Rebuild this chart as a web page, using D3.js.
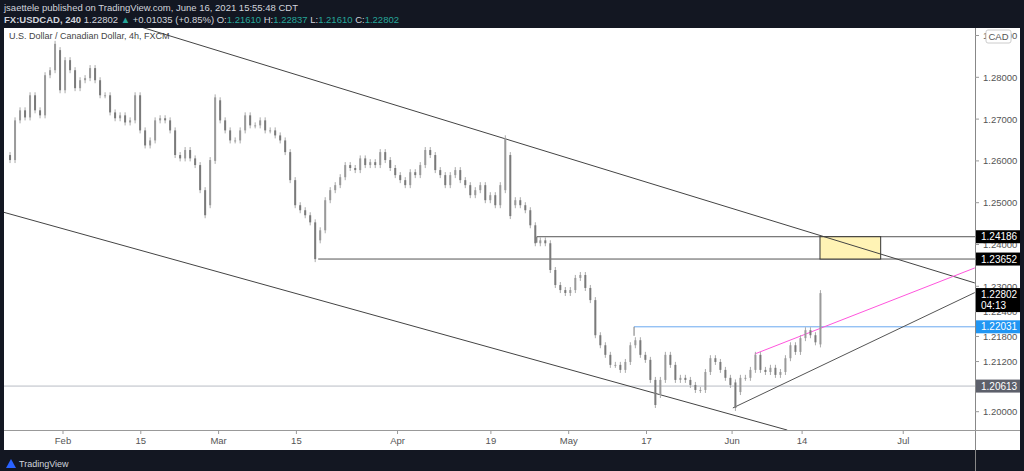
<!DOCTYPE html>
<html><head><meta charset="utf-8">
<script src="https://cdn.jsdelivr.net/npm/d3@7"></script>
<style>body{margin:0;background:#131722;}svg{display:block;font-family:"Liberation Sans",Arial,sans-serif;}</style>
</head><body><svg id="c" width="1024" height="471"></svg>
<script>
// trading-day index (0 = Feb 1) of first sample, sample spacing in trading days
const firstDay = -7.45, daySpan = 0.643;
const closes = [
1.2614,1.2602,1.2697,1.2721,1.2704,1.2757,1.2721,1.2709,1.2805,1.2817,
1.2865,1.2769,1.2841,1.2817,1.2774,1.2793,1.2798,1.2822,1.2793,1.2757,
1.2757,1.2716,1.2702,1.2709,1.2692,1.2697,1.2757,1.2673,1.2637,1.2649,
1.2697,1.2702,1.2697,1.2673,1.2614,1.2606,1.2626,1.2606,1.2590,1.2530,
1.2494,1.2602,1.2745,1.2697,1.2673,1.2649,1.2649,1.2673,1.2709,1.2685,
1.2685,1.2697,1.2673,1.2673,1.2661,1.2649,1.2621,1.2554,1.2494,1.2482,
1.2470,1.2453,1.2410,1.2434,1.2506,1.2530,1.2542,1.2561,1.2590,1.2583,
1.2578,1.2606,1.2590,1.2597,1.2590,1.2621,1.2602,1.2583,1.2566,1.2554,
1.2542,1.2573,1.2566,1.2590,1.2626,1.2614,1.2578,1.2566,1.2542,1.2566,
1.2578,1.2554,1.2542,1.2518,1.2530,1.2542,1.2506,1.2518,1.2494,1.2542,
1.2614,1.2494,1.2506,1.2494,1.2482,1.2446,1.2403,1.2410,1.2403,1.2339,
1.2303,1.2291,1.2284,1.2291,1.2320,1.2327,1.2296,1.2267,1.2183,1.2159,
1.2136,1.2112,1.2112,1.2100,1.2119,1.2159,1.2171,1.2136,1.2124,1.2076,
1.2040,1.2076,1.2136,1.2112,1.2076,1.2081,1.2076,1.2064,1.2052,1.2052,
1.2095,1.2128,1.2119,1.2100,1.2081,1.2064,1.2047,1.2081,1.2081,1.2100,
1.2136,1.2100,1.2095,1.2105,1.2088,1.2095,1.2128,1.2159,1.2143,1.2176,
1.2195,1.2183,1.2166,1.22802];
// notable wick extremes [sample index, high, low]
const wicks = [[0,1.2630,1.2590],[10,1.2880,1.2820],[40,1.2520,1.2470],[42,1.2752,1.2600],[62,1.2440,1.2365],
 [100,1.2654,1.2530],[101,1.2600,1.2468],[130,1.2070,1.2016],[146,1.2070,1.2009],[163,1.22837,1.2161]];
const timeTicks = [["Feb",0],["15",10],["Mar",20],["15",30],["Apr",43],["19",55],["May",65],["17",75],["Jun",86],["14",95],["Jul",108]];
const priceTicks = [1.29,1.28,1.27,1.26,1.25,1.24,1.23,1.224,1.218,1.212,1.20];
// drawings: [day1, price1, day2, price2]
const upperChannel = [9.9,1.2921,117.2,1.2308];
const lowerChannel = [-7.6,1.2477,93.1,1.1956];
const risingSupport = [86.1,1.2009,117.2,1.2285];
const pinkLine = [88.9,1.2138,117.2,1.2344];
const levels = [ // [startDay, price, label color, line color]
 [60.9,1.24186,"#000","#555"],[32.8,1.23652,"#000","#555"],[73.4,1.22031,"#2196f3","#6aa8f0"],[-8,1.20613,"#5d606b","#b9bcc4"]];
const zone = [97.3,105.1,1.23652,1.24186];
const lastPrice = 1.22802;

const svg = d3.select("#c");
const L=4,R=975,T=28,B=430;
const x = d3.scaleLinear().domain([0,1]).range([63,70.78]);
const y = d3.scaleLinear().domain([1.20,1.28]).range([411.7,77.3]);
const dayOf = i => firstDay + i*daySpan;

svg.append("rect").attr("x",L).attr("y",T).attr("width",1020-L).attr("height",450-T).attr("fill","#fff");
svg.append("text").attr("x",4).attr("y",11).attr("fill","#d1d4dc").attr("font-size",9.5).text("jsaettele published on TradingView.com, June 16, 2021 15:55:48 CDT");
const h = svg.append("text").attr("x",4).attr("y",23).attr("font-size",9.5).attr("fill","#d1d4dc");
h.append("tspan").attr("font-weight","bold").text("FX:USDCAD, 240 ");
h.append("tspan").text("1.22802 ");
h.append("tspan").attr("fill","#26a69a").text("▲");
h.append("tspan").text(" +0.01035 (+0.85%) O:");
[["1.21610"," H:"],["1.22837"," L:"],["1.21610"," C:"],["1.22802",""]].forEach(([v,n])=>{h.append("tspan").attr("fill","#26a69a").text(v);h.append("tspan").text(n);});

svg.append("clipPath").attr("id","pc").append("rect").attr("x",L).attr("y",T).attr("width",R-L).attr("height",B-T);
const g = svg.append("g").attr("clip-path","url(#pc)");
g.append("text").attr("x",9).attr("y",39).attr("font-size",9).attr("fill","#444").text("U.S. Dollar / Canadian Dollar, 4h, FXCM");

levels.forEach(([d,p,,lc])=>{
  g.append("line").attr("x1",x(d)).attr("x2",R).attr("y1",y(p)).attr("y2",y(p)).attr("stroke",lc).attr("stroke-width",1);
});
g.append("line").attr("x1",x(levels[0][0])).attr("x2",x(levels[0][0])).attr("y1",y(levels[0][1])).attr("y2",y(levels[0][1])+6).attr("stroke","#555");
g.append("line").attr("x1",x(levels[2][0])).attr("x2",x(levels[2][0])).attr("y1",y(levels[2][1])).attr("y2",y(levels[2][1])+9).attr("stroke","#777");
g.append("rect").attr("x",x(zone[0])).attr("width",x(zone[1])-x(zone[0])).attr("y",y(zone[3])).attr("height",y(zone[2])-y(zone[3]))
 .attr("fill","#fff3b5").attr("stroke","#333").attr("stroke-width",1);
[[upperChannel,"#444"],[lowerChannel,"#444"],[risingSupport,"#555"],[pinkLine,"#ff55dd"]].forEach(([l,c])=>{
  g.append("line").attr("x1",x(l[0])).attr("y1",y(l[1])).attr("x2",x(l[2])).attr("y2",y(l[3])).attr("stroke",c).attr("stroke-width",1);
});

const wm = new Map(wicks.map(w=>[w[0],w]));
closes.forEach((c,i)=>{
  if(i===0) return;
  const o = closes[i-1];
  let hi=Math.max(o,c), lo=Math.min(o,c);
  const w = wm.get(i);
  if(w){hi=Math.max(hi,w[1]);lo=Math.min(lo,w[2]);}
  const cx = x(dayOf(i));
  const col = c>=o ? "#9a9a9a" : "#7a7a7a";
  g.append("line").attr("x1",cx).attr("x2",cx).attr("y1",y(hi)-3).attr("y2",y(lo)+3).attr("stroke","#aaa").attr("stroke-width",1);
  g.append("rect").attr("x",cx-1).attr("width",2).attr("y",y(hi)).attr("height",Math.max(1,y(lo)-y(hi))).attr("fill",col);
});

svg.append("line").attr("x1",R+0.5).attr("x2",R+0.5).attr("y1",T).attr("y2",471).attr("stroke","#888");
svg.append("line").attr("x1",L).attr("x2",1020).attr("y1",B+0.5).attr("y2",B+0.5).attr("stroke","#999");
timeTicks.forEach(([t,d])=>{
  svg.append("line").attr("x1",x(d)).attr("x2",x(d)).attr("y1",B).attr("y2",B+4).attr("stroke","#999");
  svg.append("text").attr("x",x(d)).attr("y",B+14).attr("text-anchor","middle").attr("font-size",9.5).attr("fill","#555").text(t);
});
priceTicks.forEach(p=>{
  svg.append("line").attr("x1",R).attr("x2",R+4).attr("y1",y(p)).attr("y2",y(p)).attr("stroke","#999");
  svg.append("text").attr("x",R+8).attr("y",y(p)+3.5).attr("font-size",9.5).attr("fill","#555").text(p.toFixed(5));
});
svg.append("rect").attr("x",986).attr("y",30).attr("width",25).attr("height",13).attr("fill","#fff").attr("stroke","#ccc").attr("rx",2);
svg.append("text").attr("x",998.5).attr("y",40).attr("text-anchor","middle").attr("font-size",9.5).attr("fill","#555").text("CAD");
function tag(p,bg,extra){
  const yy=y(p), hh=extra?24:13;
  svg.append("rect").attr("x",R+1).attr("y",yy-6.5).attr("width",44).attr("height",hh).attr("fill",bg);
  svg.append("text").attr("x",R+6).attr("y",yy+3.5).attr("font-size",10).attr("fill","#fff").text(p.toFixed(5));
  if(extra) svg.append("text").attr("x",R+6).attr("y",yy+14.5).attr("font-size",10).attr("fill","#fff").text(extra);
}
levels.forEach(([,p,bg])=>tag(p,bg));
tag(lastPrice,"#000","04:13");
svg.append("path").attr("d","M6,468 L11,459 L16,468 Z").attr("fill","#2962ff");
svg.append("text").attr("x",19).attr("y",467).attr("font-size",9).attr("fill","#d1d4dc").text("TradingView");
</script></body></html>
